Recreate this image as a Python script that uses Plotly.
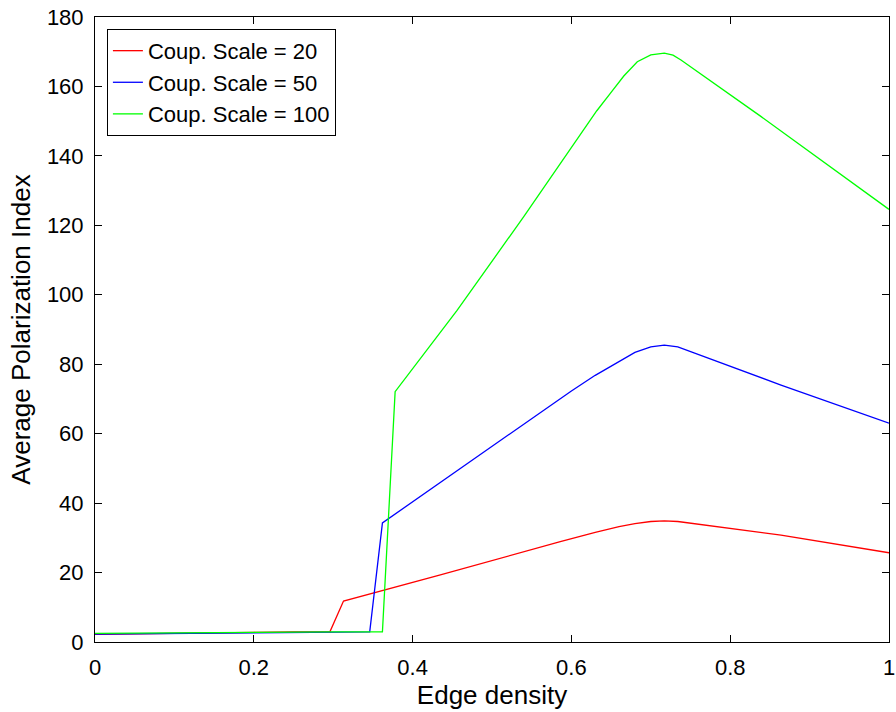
import plotly.graph_objects as go

# Edge density samples and series values
x_red = [0.0, 0.05, 0.1, 0.15, 0.2, 0.25, 0.296, 0.313, 0.435, 0.586, 0.60, 0.63, 0.66, 0.68, 0.70, 0.717, 0.734, 0.864, 1.0]
y_red = [2.2, 2.4, 2.5, 2.7, 2.8, 2.9, 3.0, 11.8, 19.3, 28.9, 29.8, 31.6, 33.2, 34.1, 34.7, 34.9, 34.7, 30.8, 25.7]

x_blue = [0.0, 0.05, 0.1, 0.15, 0.2, 0.25, 0.3, 0.346, 0.362, 0.435, 0.586, 0.60, 0.63, 0.66, 0.68, 0.70, 0.717, 0.734, 0.864, 1.0]
y_blue = [2.3, 2.4, 2.5, 2.7, 2.8, 2.9, 2.9, 2.9, 34.3, 46.0, 70.2, 72.3, 76.8, 80.8, 83.4, 85.0, 85.5, 85.0, 74.0, 63.0]

x_green = [0.0, 0.05, 0.1, 0.15, 0.2, 0.25, 0.3, 0.346, 0.362, 0.378, 0.456, 0.540, 0.616, 0.632, 0.649, 0.666, 0.683, 0.70, 0.717, 0.728, 0.738, 0.839, 1.0]
y_green = [2.5, 2.6, 2.7, 2.8, 2.9, 2.9, 2.9, 2.9, 2.9, 72.1, 95.5, 122.5, 147.5, 153.0, 158.0, 163.0, 167.1, 169.1, 169.6, 169.0, 167.6, 151.3, 124.6]

names = ["Coup. Scale = 20", "Coup. Scale = 50", "Coup. Scale = 100"]
colors = ["#ff0000", "#0000ff", "#00ff00"]

x_ticks = [0, 0.2, 0.4, 0.6, 0.8, 1]
x_ticklabels = ["0", "0.2", "0.4", "0.6", "0.8", "1"]
y_ticks = [0, 20, 40, 60, 80, 100, 120, 140, 160, 180]

fig = go.Figure()
for xs, ys, nm, c in zip([x_red, x_blue, x_green], [y_red, y_blue, y_green], names, colors):
    fig.add_trace(go.Scatter(x=xs, y=ys, mode="lines", name=nm,
                             line=dict(color=c, width=1.3)))

FONT = "Liberation Sans, Arial, Helvetica, sans-serif"

fig.update_layout(
    width=896, height=712,
    margin=dict(l=95, r=7, t=17, b=70, autoexpand=False),
    paper_bgcolor="white", plot_bgcolor="white",
    font=dict(family=FONT, size=22, color="black"),
    showlegend=True,
    legend=dict(x=0.015, y=0.981, xanchor="left", yanchor="top",
                bgcolor="white", bordercolor="black", borderwidth=1,
                font=dict(size=22), tracegroupgap=0, itemwidth=30),
)
fig.update_xaxes(
    range=[0, 1], tickvals=x_ticks, ticktext=x_ticklabels,
    ticks="inside", ticklen=7, tickcolor="black", tickwidth=1,
    showline=True, linecolor="black", linewidth=1, mirror="allticks",
    showgrid=False, zeroline=False, ticklabelstandoff=6, automargin=False,
    title=dict(text="Edge density", standoff=3),
)
fig.update_yaxes(
    range=[0, 180], tickvals=y_ticks,
    ticks="inside", ticklen=7, tickcolor="black", tickwidth=1,
    showline=True, linecolor="black", linewidth=1, mirror="allticks",
    showgrid=False, zeroline=False, ticklabelstandoff=6, automargin=False,
    title=dict(text="Average Polarization Index", standoff=8),
)

fig.write_html("out.html")
